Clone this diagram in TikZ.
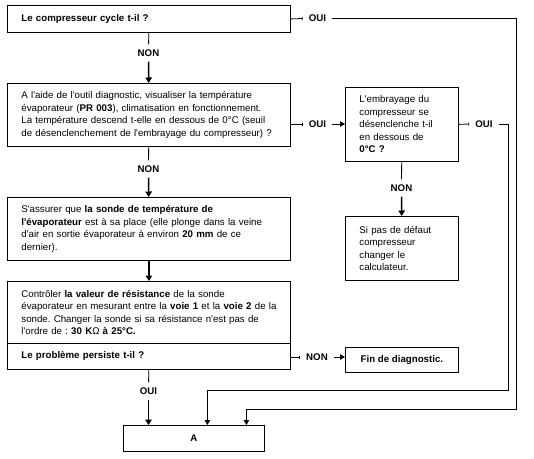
\documentclass[tikz,border=0pt]{standalone}
\usepackage{fontspec}
\setmainfont{Liberation Sans}[Ligatures=TeXOff]
\usetikzlibrary{arrows.meta}
\tikzset{
  box/.style={draw, line width=0.8pt, anchor=north west, inner xsep=14pt, inner ysep=0pt,
    text width=255pt, align=left, font=\fontsize{9.7}{12.5}\selectfont\frenchspacing},
  lbl/.style={inner xsep=6pt, inner ysep=5pt, font=\bfseries\fontsize{9.7}{11}\selectfont},
  big/.style={line width=1.5pt, -{Triangle[width=6.5pt,length=5.5pt]}},
  thin/.style={line width=0.8pt, -{Triangle[width=5.5pt,length=5pt]}},
  tick/.style={line width=0.8pt, -{Bar[width=3pt]}},
  link/.style={line width=0.8pt}
}
\begin{document}
\begin{tikzpicture}[x=1pt,y=-1pt]
    \useasboundingbox (0,0) rectangle (534,458);
    %Compresseur
    \node[box, minimum height=27pt] (cycle) at (7,5) {\textbf{Le compresseur cycle t-il ?}};
    \node[lbl] (oui1) at (317.5,18.5) {OUI};
    \draw[tick] (cycle.east) -- (oui1.west);
    \node[lbl] (non1) at (148.5,53) {NON};
    \draw[link] (cycle) -- (non1);
    %Temperature
    \node[box, minimum height=63pt] (temp) at (7,83) {A l'aide de l'outil diagnostic, visualiser la température\\
      évaporateur (\textbf{PR 003}), climatisation en fonctionnement.\\
      La température descend t-elle en dessous de 0°C (seuil\\
      de désenclenchement de l'embrayage du compresseur) ?};
    \draw[big] (non1) -- (temp);
    \node[lbl] (oui2) at (317.5,124) {OUI};
    \draw[tick] (temp.east |- oui2) -- (oui2.west);
    %Embrayage
    \node[box, text width=85pt, minimum height=74pt] (emb) at (345,87) {L'embrayage du\\
      compresseur se\\ désenclenche t-il\\ en dessous de\\ \textbf{0°C ?}};
    \draw[thin] (oui2.east) -- (emb.west |- oui2);
    \node[lbl] (oui3) at (484,124) {OUI};
    \draw[tick] (emb.east) -- (oui3.west);
    \node[lbl] (non3) at (401.5,188) {NON};
    \draw[link] (emb) -- (non3);
    %Defaut
    \node[box, text width=85pt, minimum height=64pt] (defaut) at (345,216) {Si pas de défaut\\
      compresseur\\ changer le\\ calculateur.};
    \draw[big] (non3) -- (defaut);
    %Sonde
    \node[lbl] (non2) at (148.5,169) {NON};
    \draw[link] (temp) -- (non2);
    \node[box, minimum height=63pt] (sonde) at (7,197) {S'assurer que \textbf{la sonde de température de}\\
      \textbf{l'évaporateur} est à sa place (elle plonge dans la veine\\
      d'air en sortie évaporateur à environ \textbf{20 mm} de ce\\ dernier).};
    \draw[big] (non2) -- (sonde);
    %Resistance
    \node[box, minimum height=62pt] (ctrl) at (7,281) {Contrôler \textbf{la valeur de résistance} de la sonde\\
      \mbox{évaporateur en mesurant entre la \textbf{voie 1} et la \textbf{voie 2} de la}\\
      sonde. Changer la sonde si sa résistance n'est pas de\\
      l'ordre de : \textbf{30 K}Ω\textbf{ à 25°C.}};
    \draw[big] (sonde) -- (ctrl);
    \node[box, minimum height=26pt] (persist) at (7,343) {\textbf{Le problème persiste t-il ?}};
    %Fin
    \node[box, text width=, align=center, minimum width=113pt, minimum height=25pt] (fin) at (345,347) {\textbf{Fin de diagnostic.}};
    \node[lbl] (non4) at (317,357) {NON};
    \draw[tick] (persist.east |- non4) -- (non4.west);
    \draw[thin] (non4.east) -- (fin.west |- non4);
    %Resultat
    \node[box, text width=, align=center, inner xsep=0pt, minimum width=141pt, minimum height=26pt] (res) at (123,425) {\textbf{A}};
    \node[lbl] (oui4) at (148.5,391) {OUI};
    \draw[link] (persist) -- (oui4);
    \draw[big] (oui4) -- (oui4 |- res.north);
    \draw[thin] (oui1.east) -| (516,409) -| ([xshift=52.5pt]res.north);
    \draw[thin] (oui3.east) -| (508,390) -| ([xshift=13.5pt]res.north);
\end{tikzpicture}
\end{document}
